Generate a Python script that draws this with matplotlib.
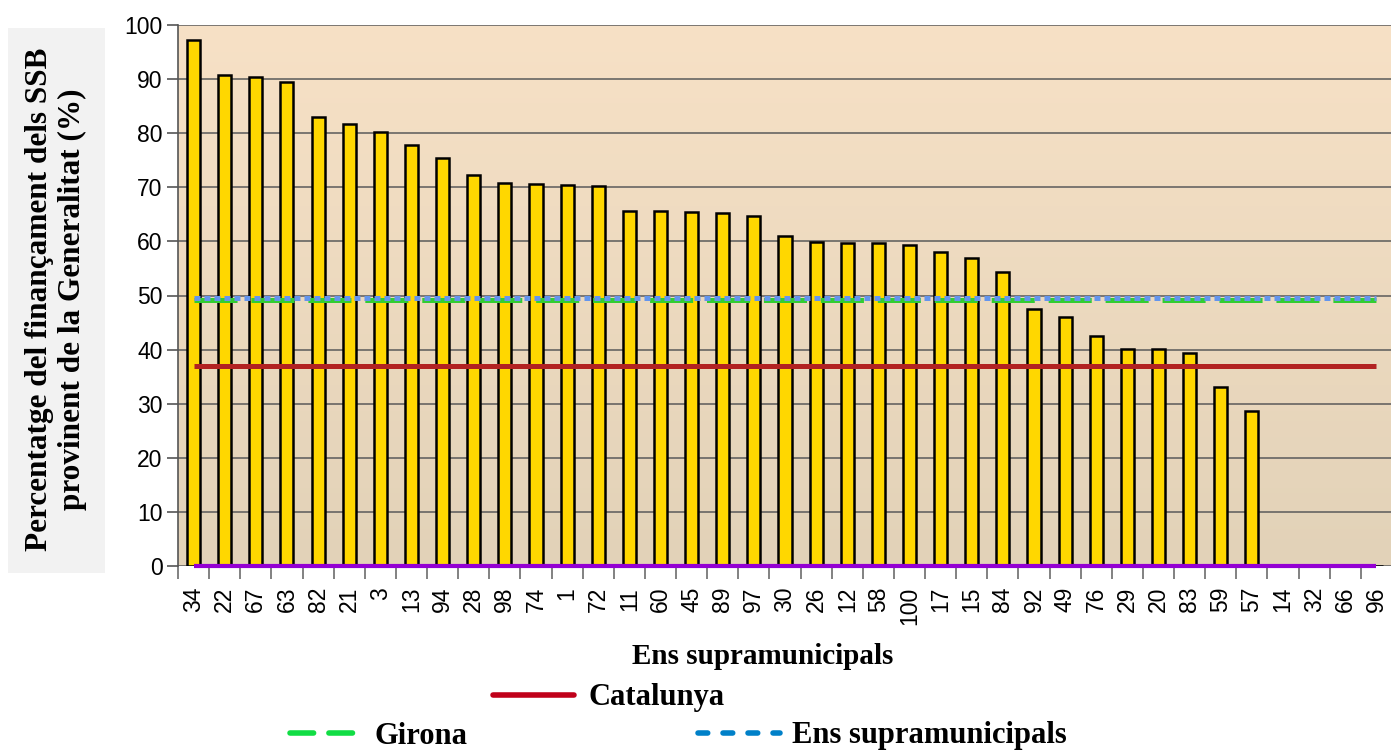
import matplotlib
matplotlib.use("Agg")
import matplotlib.pyplot as plt
import numpy as np
from matplotlib.lines import Line2D
from matplotlib.patches import Rectangle
import logging
logging.getLogger('matplotlib.font_manager').setLevel(logging.ERROR)

plt.rcParams['lines.scale_dashes'] = False

categories = ["34", "22", "67", "63", "82", "21", "3", "13", "94", "28", "98", "74", "1", "72",
              "11", "60", "45", "89", "97", "30", "26", "12", "58", "100", "17", "15", "84",
              "92", "49", "76", "29", "20", "83", "59", "57", "14", "32", "66", "96"]
values = [97.2, 90.8, 90.4, 89.5, 83.0, 81.7, 80.2, 77.8, 75.4, 72.3, 70.8, 70.6, 70.4, 70.2,
          65.6, 65.6, 65.4, 65.2, 64.7, 61.0, 59.9, 59.7, 59.7, 59.3, 58.0, 56.9, 54.3,
          47.5, 46.0, 42.5, 40.1, 40.1, 39.4, 33.1, 28.6, 0, 0, 0, 0]
catalunya = 37.0
girona = 49.1
ens_supra = 49.6
zero_series = 0.0

tick_font = ["Liberation Sans Narrow", "Liberation Sans"]

fig = plt.figure(figsize=(13.91, 7.54), dpi=100)
fig.patch.set_facecolor("white")
ax = fig.add_axes([178/1391, 1-566/754, (1392-178)/1391, (566-25)/754])

n = len(categories)
x = np.arange(n)

# gradient background (light peach at top, tan at bottom)
grad = np.linspace(0, 1, 256).reshape(-1, 1)
top = np.array([0xF7, 0xE1, 0xC6]) / 255
bot = np.array([0xE2, 0xD2, 0xB8]) / 255
img = top[None, None, :] * (1 - grad[:, :, None]) + bot[None, None, :] * grad[:, :, None]
ax.imshow(img, extent=(-0.5, n - 0.5, 0, 100), origin='upper', aspect='auto', zorder=0)
ax.set_xlim(-0.5, n - 0.5)
ax.set_ylim(0, 100)

ax.yaxis.grid(True, color="#5a5a5a", linewidth=1.1, zorder=1)
ax.set_axisbelow(True)

ax.bar(x, values, width=0.42, color="#FFD700", edgecolor="black", linewidth=1.8, zorder=2)

ax.hlines(catalunya, 0, n - 1, color="#B22222", linewidth=3.6, zorder=3)
ax.plot([0, n - 1], [girona, girona], color="#33CC33", linewidth=3.6,
        dashes=(31, 10), solid_capstyle='butt', dash_capstyle='butt', zorder=4)
ax.plot([0, n - 1], [ens_supra, ens_supra], color="#6495ED", linewidth=3.6,
        dashes=(4.3, 2.9), dash_capstyle='butt', zorder=5)
ax.hlines(zero_series, 0, n - 1, color="#9400D3", linewidth=3, zorder=6, clip_on=False)

for s in ["top", "right", "bottom"]:
    ax.spines[s].set_visible(False)
ax.spines["left"].set_color("#555555")
ax.spines["left"].set_linewidth(1.2)

ax.set_yticks(np.arange(0, 101, 10))
ax.tick_params(axis='y', length=8, width=1.2, color="#555555", labelsize=16.5, pad=3)
ax.set_yticklabels([str(v) for v in range(0, 101, 10)], fontfamily=tick_font)

ax.set_xticks(x)
ax.set_xticklabels(categories, rotation=90, fontfamily=tick_font, fontsize=16.5)
ax.tick_params(axis='x', length=0, pad=15)
ax.set_xticks(np.arange(-0.5, n, 1), minor=True)
ax.tick_params(axis='x', which='minor', length=9, width=1.3, color="#777777")

# y-label box
fig.patches.append(Rectangle((8/1391, 1-573/754), 97/1391, (573-28)/754,
                             transform=fig.transFigure, facecolor="#F2F2F2", edgecolor="none"))
fig.text(56/1391, 1-299/754, "Percentatge del finançament dels SSB\nprovinent de la Generalitat (%)",
         rotation=90, ha='center', va='center', fontfamily="Liberation Serif",
         fontweight='bold', fontsize=22.5, linespacing=1.2)

fig.text(763/1391, 1-656/754, "Ens supramunicipals", ha='center', va='center',
         fontfamily="Liberation Serif", fontweight='bold', fontsize=21)

# legend
def leg(x0, x1, y, color, dashes, text, tx):
    ln = Line2D([x0/1391, x1/1391], [1-y/754, 1-y/754], transform=fig.transFigure,
                color=color, linewidth=4, solid_capstyle='round', dash_capstyle='round')
    if dashes is not None:
        ln.set_dashes(dashes)
    fig.lines.append(ln)
    fig.text(tx/1391, 1-(y+3)/754, text, ha='left', va='center', fontfamily="Liberation Serif",
             fontweight='bold', fontsize=22)

leg(493, 574, 695, "#C0001A", None, "Catalunya", 588)
leg(290, 362, 733, "#11DD44", (17, 11), "Girona", 375)
leg(698, 780, 733, "#0080C8", (7, 11), "Ens supramunicipals", 792)

fig.savefig("out.png", dpi=100)
